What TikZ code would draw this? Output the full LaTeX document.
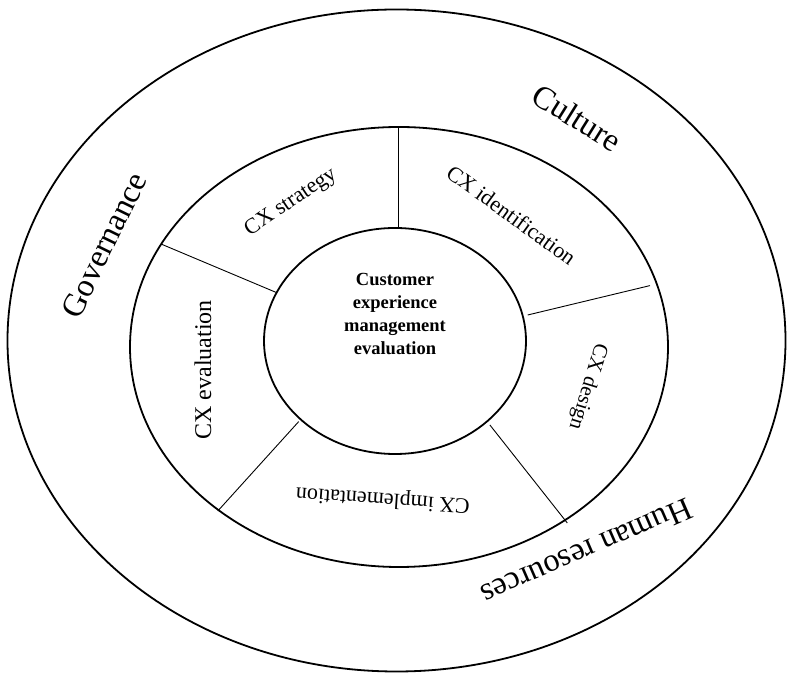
\documentclass[tikz,border=0pt]{standalone}
\usepackage{fontspec}
\setmainfont{Liberation Serif}
\usepackage{xcolor}

\tikzset{
  ring/.style={draw=black,line width=1.8pt},
  spoke/.style={draw=black,line width=0.9pt},
  pillar/.style={inner sep=0pt,outer sep=0pt,font=\fontsize{32.5}{38}\selectfont},
  phase/.style={inner sep=0pt,outer sep=0pt,font=\fontsize{22}{26}\selectfont}
}

\begin{document}
\begin{tikzpicture}[x=1pt,y=1pt]
\definecolor{fillColor}{RGB}{255,255,255}
\path[use as bounding box,fill=fillColor] (0,0) rectangle (787,674);

% rings
\draw[ring] (396.5,333.5) ellipse [x radius=389pt, y radius=331pt];
\draw[ring] (399,327) ellipse [x radius=269pt, y radius=220pt];
\draw[ring] (395,333) ellipse [x radius=131pt, y radius=113pt];

% spoke ends on the core and on the ring
\coordinate (coreN) at (398.6,447);
\coordinate (ringN) at (398.6,547);
\coordinate (coreNW) at (276.3,381.5);
\coordinate (ringNW) at (161,430);
\coordinate (coreE) at (527.7,359);
\coordinate (ringE) at (650,388.4);
\coordinate (coreSE) at (489.9,249);
\coordinate (ringSE) at (567.3,151);
\coordinate (coreSW) at (298.7,252.4);
\coordinate (ringSW) at (217.8,163);

\draw[spoke] (coreN) -- (ringN);
\draw[spoke] (coreNW) -- (ringNW);
\draw[spoke] (coreE) -- (ringE);
\draw[spoke] (coreSE) -- (ringSE);
\draw[spoke] (coreSW) -- (ringSW);

% core
\node[align=center,inner sep=0pt,font=\bfseries\fontsize{18.5}{23}\selectfont] (core) at (395,360.5)
  {Customer\\experience\\management\\evaluation};

% phases
\node[phase,rotate=34] (strategy) at (291,471.5) {CX strategy};
\node[phase,rotate=-36] (identification) at (511.5,459) {CX identification};
\node[phase,rotate=-107,font=\fontsize{21}{25}\selectfont] (design) at (587.5,287.5) {CX design};
\node[phase,rotate=176] (implementation) at (383,175) {CX implementation};
\node[phase,rotate=90,font=\fontsize{24}{28}\selectfont] (evaluation) at (203,304) {CX evaluation};

% pillars
\node[pillar,rotate=-32] (culture) at (577,556.5) {Culture};
\node[pillar,rotate=64] (governance) at (104,429) {Governance};
\node[pillar,rotate=203.5] (people) at (586.5,122) {Human resources};
\end{tikzpicture}
\end{document}
